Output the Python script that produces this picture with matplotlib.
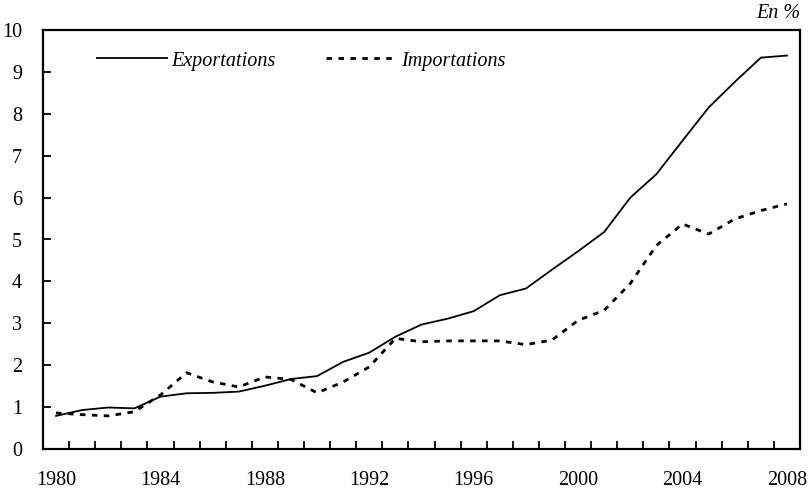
import matplotlib.pyplot as plt
import numpy as np

plt.rcParams["font.family"] = ["Liberation Serif", "DejaVu Serif"]

# ------------------------------------------------------------------
# data
# ------------------------------------------------------------------
years = list(range(1980, 2009))
exportations = [0.79, 0.93, 0.99, 0.97, 1.25, 1.33, 1.34, 1.37, 1.51, 1.67,
                1.74, 2.08, 2.30, 2.68, 2.97, 3.11, 3.29, 3.67, 3.83, 4.28,
                4.72, 5.18, 6.00, 6.56, 7.36, 8.15, 8.76, 9.34, 9.39]
importations = [0.86, 0.82, 0.79, 0.89, 1.29, 1.82, 1.60, 1.48, 1.72, 1.66,
                1.34, 1.60, 1.96, 2.64, 2.56, 2.58, 2.58, 2.58, 2.49, 2.60,
                3.07, 3.31, 3.95, 4.86, 5.37, 5.13, 5.49, 5.69, 5.85]
label_years = [1980, 1984, 1988, 1992, 1996, 2000, 2004, 2008]

# ------------------------------------------------------------------
# figure
# ------------------------------------------------------------------
fig = plt.figure(figsize=(8.08, 4.94), dpi=100)
ax = fig.add_axes([43 / 808, 45 / 494, 757 / 808, 419 / 494])

ax.plot(years, exportations, color="black", linewidth=1.3, label="Exportations")
ax.plot(years, importations, color="black", linewidth=2.0,
        linestyle=(0, (2.0, 2.3)), label="Importations")

ax.set_xlim(1979.5, 2008.5)
ax.set_ylim(0, 10)

ax.set_yticks(range(0, 11))
ax.set_xticks(label_years)
ax.set_xticks(np.arange(1980.5, 2008.5, 1), minor=True)
ax.tick_params(axis="x", which="major", length=0, pad=16, labelsize=14.5)
ax.tick_params(axis="x", which="minor", direction="in", length=6, width=1.3)
ax.tick_params(axis="y", direction="in", length=6, width=1.3, pad=15, labelsize=14.5)

for sp in ax.spines.values():
    sp.set_linewidth(1.6)

ax.legend(loc="center left", bbox_to_anchor=(54 / 757, 388 / 419), ncol=2,
          frameon=False, prop={"style": "italic", "size": 14.5},
          handlelength=3.5, handletextpad=0.2, columnspacing=2.5,
          borderpad=0, borderaxespad=0)

fig.text(800 / 808, 1 - 14 / 494, "En %", ha="right", va="center",
         fontsize=14.5, style="italic")

fig.savefig("out.png", dpi=100)
